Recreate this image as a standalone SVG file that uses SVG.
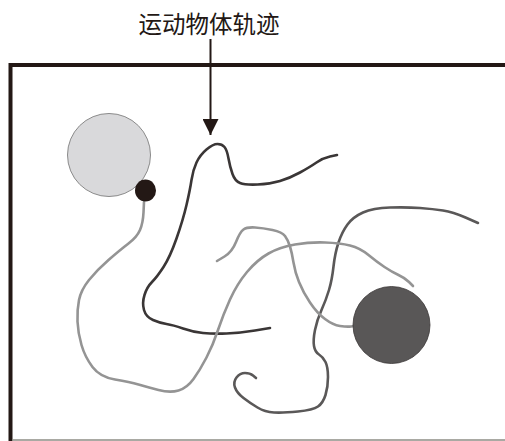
<svg xmlns="http://www.w3.org/2000/svg" width="505" height="441" viewBox="0 0 505 441">
<style>
.trk{fill:none;stroke-linecap:round;stroke-linejoin:round;stroke-width:2.6}
.dk{stroke:#3a3636}
.md{stroke:#5a5858}
.lt{stroke:#949494}
.lbl{font-family:"Noto Sans CJK SC","Noto Sans",sans-serif;font-size:23.5px;fill:#231815}
</style>
<defs>
<marker id="ah" viewBox="0 0 16 16" refX="16" refY="8" markerWidth="16" markerHeight="16" markerUnits="userSpaceOnUse" orient="auto">
<path d="M0,0 L16,8 L0,16 Z" fill="#231815"/>
</marker>
</defs>
<rect width="505" height="441" fill="#ffffff"/>
<g id="frame">
<line x1="10.5" y1="65" x2="505" y2="65" stroke="#231815" stroke-width="4"/>
<line x1="10.5" y1="63" x2="10.5" y2="441" stroke="#231815" stroke-width="4"/>
<line x1="12" y1="440" x2="505" y2="440" stroke="#8c8c84" stroke-width="1.5"/>
</g>
<g id="trajectories">
<path id="track-a" class="trk dk" d="M270,328 L255,330.5 Q240,333 226.5,333.5 Q213,334 203,333 Q193,332 183,328.5 Q173,325 166.5,324 Q160,323 153,320 Q146,317 144,310 Q142,303 144.5,295 Q147,287 152,282 Q157,277 163.5,267 Q170,257 176.5,238.5 Q183,220 186.5,205 Q190,190 191.5,180 Q193,170 196.5,162.5 Q200,155 206.5,149.5 Q213,144 217.5,144 Q222,144 224.5,147 Q227,150 228.5,158.5 Q230,167 232.5,174 Q235,181 240,183 Q245,185 257.5,184.5 Q270,184 280,181 Q290,178 300,172.5 Q310,167 316.5,162.5 Q323,158 330,156.5 L337,155"/>
<path id="track-b" class="trk md" d="M478,223 L465.5,217.5 Q453,212 443,210.5 Q433,209 420,208 Q407,207 390,207.5 Q373,208 363,212.5 Q353,217 347.5,224.5 Q342,232 338.5,242.5 Q335,253 333.5,266.5 Q332,280 329,290 Q326,300 321.5,310 Q317,320 315,330 Q313,340 314,346 Q315,352 319,354.5 Q323,357 325.5,362 Q328,367 328,377 Q328,387 325.5,395 Q323,403 318,406.5 Q313,410 298,411.5 Q283,413 274,412.5 Q265,412 257.5,407.5 Q250,403 243.5,398 Q237,393 235,387.5 Q233,382 236.5,377.5 Q240,373 245,373 Q250,373 253,375.5 L256,378"/>
<path id="track-c" class="trk lt" d="M144,202 L143.5,212.5 Q143,223 140,230 Q137,237 128.5,243.5 Q120,250 108.5,260 Q97,270 89,280 Q81,290 79,300 Q77,310 77.5,321.5 Q78,333 81.5,345 Q85,357 92.5,367 Q100,377 115,379.5 Q130,382 138.5,384.5 Q147,387 158.5,390 Q170,393 178.5,390.5 Q187,388 193.5,379 Q200,370 206.5,357.5 Q213,345 218,330 Q223,315 230,299.5 Q237,284 247,272 Q257,260 268.5,253.5 Q280,247 295,244.5 Q310,242 325,242.5 Q340,243 350,245.5 Q360,248 368.5,255 Q377,262 384.5,267 Q392,272 398.5,275 Q405,278 409,282 L413,286"/>
<path id="track-d" class="trk lt" d="M217,261 L224.5,256.5 Q232,252 236,242 Q240,232 243.5,229.5 Q247,227 255,227.5 Q263,228 272.5,230 Q282,232 285,236 Q288,240 290,246.5 Q292,253 293.5,262.5 Q295,272 299,282 Q303,292 310,302.5 Q317,313 325,319 Q333,325 340,326 Q347,327 351,326.5 L355,326"/>
</g>
<g id="obj-light"><circle cx="109" cy="155" r="41.5" fill="#d9d9db" stroke="#8a8a8a" stroke-width="1"/></g>
<g id="obj-black"><ellipse cx="145.5" cy="190.5" rx="10.5" ry="11" fill="#231815"/></g>
<g id="obj-dark"><circle cx="391.5" cy="325" r="38.5" fill="#595757" stroke="#3a3636" stroke-width="0.8"/></g>
<g id="label">
<text class="lbl" x="209" y="33" text-anchor="middle">运动物体轨迹</text>
<line x1="210.5" y1="39" x2="210.5" y2="135" stroke="#231815" stroke-width="2" marker-end="url(#ah)"/>
</g>
</svg>
